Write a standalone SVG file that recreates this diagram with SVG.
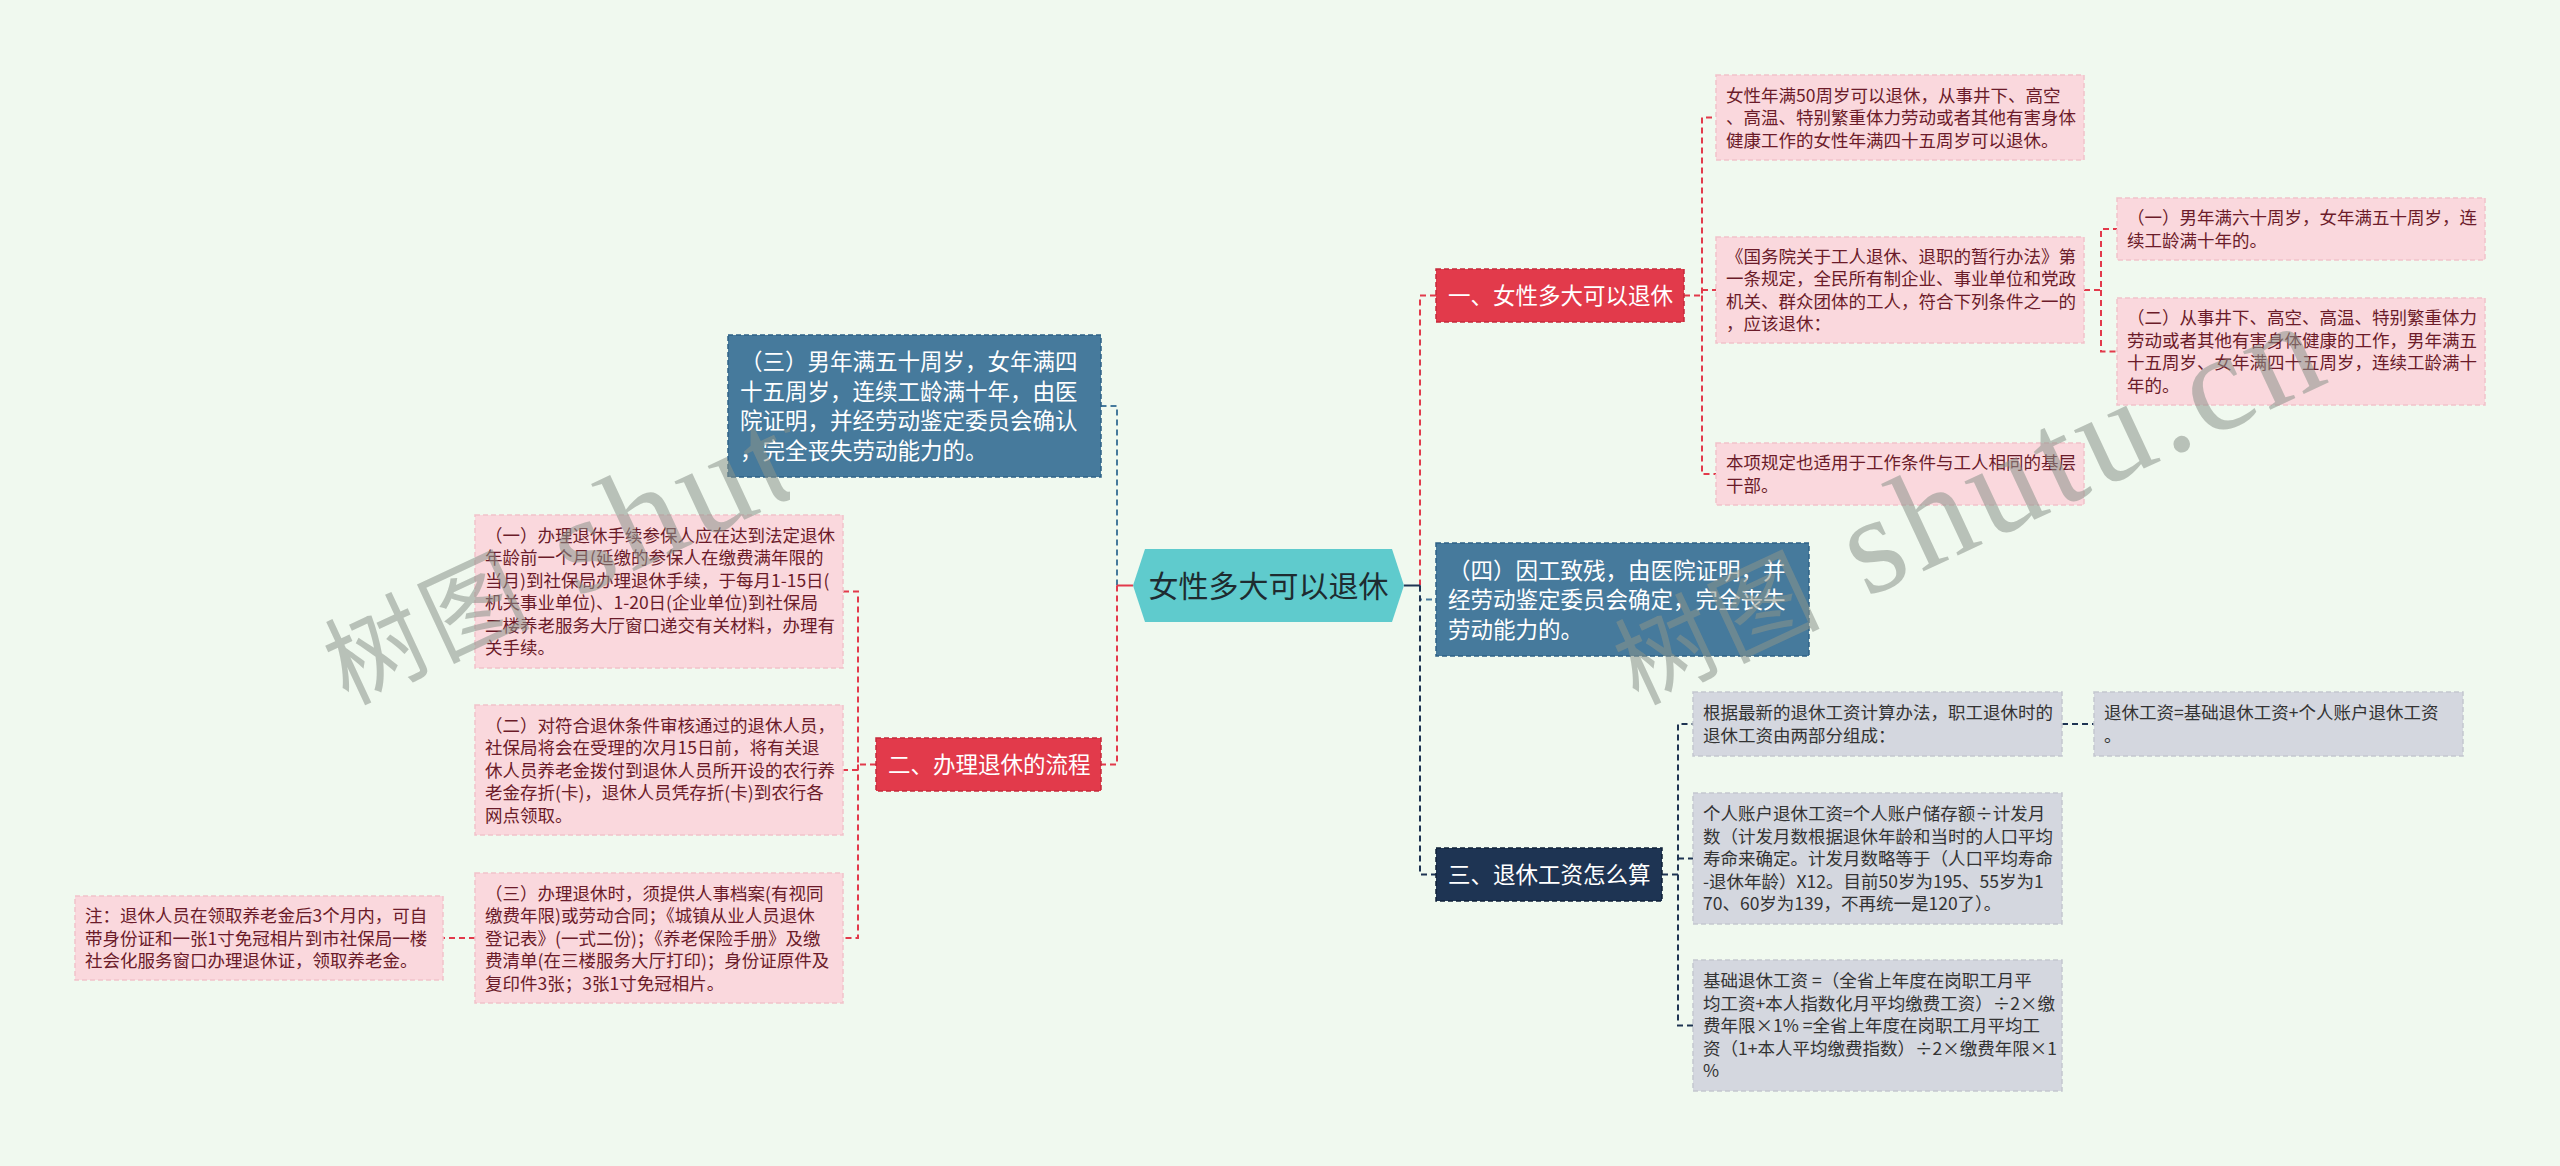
<svg xmlns="http://www.w3.org/2000/svg" width="2560" height="1166" viewBox="0 0 2560 1166">
<defs>
<style>
.pk{fill:#fad8dd;stroke:#f1c2ca;stroke-width:1.5;stroke-dasharray:5 3}
.gy{fill:#d4d7df;stroke:#c3c7d0;stroke-width:1.5;stroke-dasharray:5 3}
.bl{fill:#467a9c;stroke:#2e6286;stroke-width:1.5;stroke-dasharray:5 3}
.rd{fill:#e23a4b;stroke:#c52a3b;stroke-width:1.5;stroke-dasharray:5 3}
.nv{fill:#1e3453;stroke:#0f2139;stroke-width:1.5;stroke-dasharray:5 3}
.t{font-family:"Noto Sans CJK SC","Noto Sans",sans-serif}
.ts{font-size:17.5px;fill:#6b1b29}
.tg{font-size:17.5px;fill:#333333}
.tl{font-size:22.5px;fill:#ffffff}
.cr{fill:none;stroke:#e23a4b;stroke-width:2;stroke-dasharray:6 4}
.cb{fill:none;stroke:#467a9c;stroke-width:2;stroke-dasharray:6 4}
.cn{fill:none;stroke:#1e3453;stroke-width:2;stroke-dasharray:6 4}
.wm{font-family:"Liberation Serif","Noto Sans CJK SC",serif;fill:#8a948a;fill-opacity:0.55;letter-spacing:6px}
.wc{font-size:100px}
.wl{font-size:140px}
</style>
<clipPath id="wmclip"><rect x="0" y="0" width="790" height="1166"/></clipPath>
</defs>
<rect x="0" y="0" width="2560" height="1166" fill="#f0f9ef"/>

<g id="connectors">
<path class="cr" d="M1420,585.5 V295.5 H1436"/>
<path class="cb" d="M1420,585.5 V599.5 H1436"/>
<path class="cn" d="M1420,585.5 V874.5 H1436"/>
<path d="M1404,585.5 H1420" stroke="#1e3453" stroke-width="2" fill="none"/>
<path class="cb" d="M1117,585.5 V406 H1101"/>
<path class="cr" d="M1117,585.5 V764.5 H1101"/>
<path d="M1133,585.5 H1117" stroke="#e23a4b" stroke-width="2" fill="none"/>
<path class="cr" d="M1684,295.5 H1702 V117.5 H1716 M1702,295.5 V474 H1716 M1702,290 H1716"/>
<path class="cr" d="M2084,290 H2101 V229 H2117 M2101,290 V351.5 H2117"/>
<path class="cn" d="M1662,874.5 H1678 V724 H1693 M1678,874.5 V1025.5 H1693 M1678,858.5 H1693"/>
<path class="cn" d="M2062,724 H2094"/>
<path class="cr" d="M876,764.5 H858 V591.5 H843 M858,764.5 V938 H843 M858,770 H843"/>
<path class="cr" d="M475,938 H443"/>
</g>

<g id="center">
<polygon points="1133,585.5 1145,549 1392,549 1404,585.5 1392,622 1145,622" fill="#5fcbcd"/>
<text class="t" x="1268.5" y="597" text-anchor="middle" font-size="30" fill="#1e2b30">女性多大可以退休</text>
</g>

<g id="n1">
<rect class="rd" x="1436" y="269" width="248" height="53"/>
<text class="t tl" x="1448" y="304">一、女性多大可以退休</text>
</g>

<g id="n1a">
<rect class="pk" x="1716" y="75" width="368" height="85"/>
<text class="t ts"><tspan x="1726" y="101.7">女性年满50周岁可以退休，从事井下、高空</tspan><tspan x="1726" y="124.2">、高温、特别繁重体力劳动或者其他有害身体</tspan><tspan x="1726" y="146.7">健康工作的女性年满四十五周岁可以退休。</tspan></text>
</g>

<g id="n1b">
<rect class="pk" x="1716" y="237" width="368" height="106"/>
<text class="t ts"><tspan x="1726" y="262.9">《国务院关于工人退休、退职的暂行办法》第</tspan><tspan x="1726" y="285.4">一条规定，全民所有制企业、事业单位和党政</tspan><tspan x="1726" y="307.9">机关、群众团体的工人，符合下列条件之一的</tspan><tspan x="1726" y="330.4">，应该退休：</tspan></text>
</g>

<g id="n1c">
<rect class="pk" x="1716" y="443" width="368" height="62"/>
<text class="t ts"><tspan x="1726" y="469.4">本项规定也适用于工作条件与工人相同的基层</tspan><tspan x="1726" y="491.9">干部。</tspan></text>
</g>

<g id="n1b1">
<rect class="pk" x="2117" y="198" width="368" height="62"/>
<text class="t ts"><tspan x="2127" y="224.4">（一）男年满六十周岁，女年满五十周岁，连</tspan><tspan x="2127" y="246.9">续工龄满十年的。</tspan></text>
</g>

<g id="n1b2">
<rect class="pk" x="2117" y="298" width="368" height="107"/>
<text class="t ts"><tspan x="2127" y="324.4">（二）从事井下、高空、高温、特别繁重体力</tspan><tspan x="2127" y="346.9">劳动或者其他有害身体健康的工作，男年满五</tspan><tspan x="2127" y="369.4">十五周岁、女年满四十五周岁，连续工龄满十</tspan><tspan x="2127" y="391.9">年的。</tspan></text>
</g>

<g id="n4">
<rect class="bl" x="1436" y="543" width="373" height="113"/>
<text class="t tl"><tspan x="1448" y="578.6">（四）因工致残，由医院证明，并</tspan><tspan x="1448" y="608.1">经劳动鉴定委员会确定，完全丧失</tspan><tspan x="1448" y="637.6">劳动能力的。</tspan></text>
</g>

<g id="n3">
<rect class="nv" x="1436" y="848" width="226" height="53"/>
<text class="t tl" x="1448" y="883">三、退休工资怎么算</text>
</g>

<g id="n3a">
<rect class="gy" x="1693" y="692" width="369" height="64"/>
<text class="t tg"><tspan x="1703" y="719.4">根据最新的退休工资计算办法，职工退休时的</tspan><tspan x="1703" y="741.9">退休工资由两部分组成：</tspan></text>
</g>

<g id="n3a1">
<rect class="gy" x="2094" y="692" width="369" height="64"/>
<text class="t tg"><tspan x="2104" y="719.4">退休工资=基础退休工资+个人账户退休工资</tspan><tspan x="2104" y="741.9">。</tspan></text>
</g>

<g id="n3b">
<rect class="gy" x="1693" y="793" width="369" height="131"/>
<text class="t tg"><tspan x="1703" y="820.2">个人账户退休工资=个人账户储存额÷计发月</tspan><tspan x="1703" y="842.7">数（计发月数根据退休年龄和当时的人口平均</tspan><tspan x="1703" y="865.2">寿命来确定。计发月数略等于（人口平均寿命</tspan><tspan x="1703" y="887.7">-退休年龄）X12。目前50岁为195、55岁为1</tspan><tspan x="1703" y="910.2">70、60岁为139，不再统一是120了）。</tspan></text>
</g>

<g id="n3c">
<rect class="gy" x="1693" y="960" width="369" height="131"/>
<text class="t tg"><tspan x="1703" y="987.2">基础退休工资 =（全省上年度在岗职工月平</tspan><tspan x="1703" y="1009.7">均工资+本人指数化月平均缴费工资）÷2×缴</tspan><tspan x="1703" y="1032.2">费年限×1% =全省上年度在岗职工月平均工</tspan><tspan x="1703" y="1054.7">资（1+本人平均缴费指数）÷2×缴费年限×1</tspan><tspan x="1703" y="1077.2">%</tspan></text>
</g>

<g id="nL3">
<rect class="bl" x="728" y="335" width="373" height="142"/>
<text class="t tl"><tspan x="740" y="370.3">（三）男年满五十周岁，女年满四</tspan><tspan x="740" y="399.8">十五周岁，连续工龄满十年，由医</tspan><tspan x="740" y="429.3">院证明，并经劳动鉴定委员会确认</tspan><tspan x="740" y="458.8">，完全丧失劳动能力的。</tspan></text>
</g>

<g id="n2">
<rect class="rd" x="876" y="738" width="225" height="53"/>
<text class="t tl" x="888" y="773">二、办理退休的流程</text>
</g>

<g id="n2a">
<rect class="pk" x="475" y="515" width="368" height="153"/>
<text class="t ts"><tspan x="485" y="541.9">（一）办理退休手续参保人应在达到法定退休</tspan><tspan x="485" y="564.4">年龄前一个月(延缴的参保人在缴费满年限的</tspan><tspan x="485" y="586.9">当月)到社保局办理退休手续，于每月1-15日(</tspan><tspan x="485" y="609.4">机关事业单位)、1-20日(企业单位)到社保局</tspan><tspan x="485" y="631.9">二楼养老服务大厅窗口递交有关材料，办理有</tspan><tspan x="485" y="654.4">关手续。</tspan></text>
</g>

<g id="n2b">
<rect class="pk" x="475" y="705" width="368" height="130"/>
<text class="t ts"><tspan x="485" y="731.7">（二）对符合退休条件审核通过的退休人员，</tspan><tspan x="485" y="754.2">社保局将会在受理的次月15日前，将有关退</tspan><tspan x="485" y="776.7">休人员养老金拨付到退休人员所开设的农行养</tspan><tspan x="485" y="799.2">老金存折(卡)，退休人员凭存折(卡)到农行各</tspan><tspan x="485" y="821.7">网点领取。</tspan></text>
</g>

<g id="n2c">
<rect class="pk" x="475" y="873" width="368" height="130"/>
<text class="t ts"><tspan x="485" y="899.7">（三）办理退休时，须提供人事档案(有视同</tspan><tspan x="485" y="922.2">缴费年限)或劳动合同；《城镇从业人员退休</tspan><tspan x="485" y="944.7">登记表》(一式二份)；《养老保险手册》及缴</tspan><tspan x="485" y="967.2">费清单(在三楼服务大厅打印)；身份证原件及</tspan><tspan x="485" y="989.7">复印件3张；3张1寸免冠相片。</tspan></text>
</g>

<g id="n2c1">
<rect class="pk" x="75" y="896" width="368" height="84"/>
<text class="t ts"><tspan x="85" y="922.2">注：退休人员在领取养老金后3个月内，可自</tspan><tspan x="85" y="944.7">带身份证和一张1寸免冠相片到市社保局一楼</tspan><tspan x="85" y="967.2">社会化服务窗口办理退休证，领取养老金。</tspan></text>
</g>

<g id="watermarks">
<g clip-path="url(#wmclip)"><text class="wm" transform="translate(347,705) rotate(-25)" x="0" y="0"><tspan class="wc">树图</tspan><tspan class="wl"> shutu.cn</tspan></text></g>
<text class="wm" transform="translate(1637,705) rotate(-25)" x="0" y="0"><tspan class="wc">树图</tspan><tspan class="wl"> shutu.cn</tspan></text>
</g>
</svg>
